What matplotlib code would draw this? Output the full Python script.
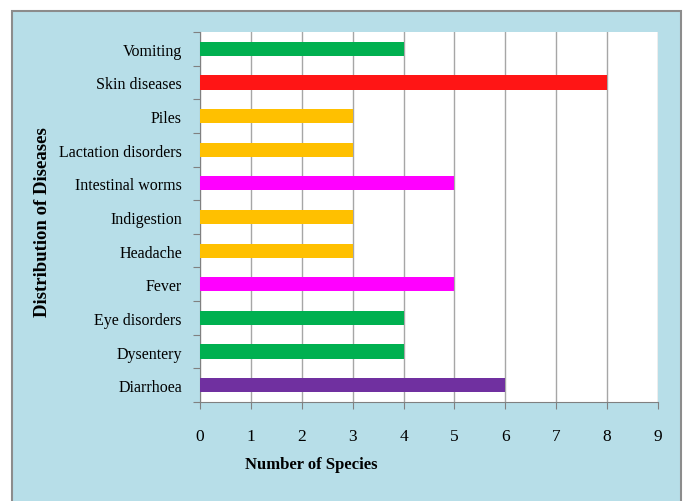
import matplotlib
matplotlib.use("Agg")
import matplotlib.pyplot as plt
from matplotlib.patches import Rectangle

categories = ["Diarrhoea", "Dysentery", "Eye disorders", "Fever", "Headache",
              "Indigestion", "Intestinal worms", "Lactation disorders", "Piles",
              "Skin diseases", "Vomiting"]
species = [6, 4, 4, 5, 3, 3, 5, 3, 3, 8, 4]
colors = ["#7030A0", "#00B050", "#00B050", "#FF00FF", "#FFC000", "#FFC000",
          "#FF00FF", "#FFC000", "#FFC000", "#FF1515", "#00B050"]
xticks = list(range(0, 10))

plt.rcParams['font.family'] = ['Liberation Serif', 'DejaVu Serif']

fig = plt.figure(figsize=(6.83, 5.02), dpi=100)
fig.patch.set_facecolor("white")
# light blue panel with gray border (bottom edge runs off the image)
fig.add_artist(Rectangle((12/683, -0.05), 1 - 14/683, 1.05 - 12/502, transform=fig.transFigure,
                         facecolor="#B7DEE8", edgecolor="#8C8C8C", linewidth=1.5, zorder=0))

ax = fig.add_axes([200/683, (502-403)/502, 458/683, 370/502])
ax.set_facecolor("white")
y = list(range(len(categories)))
ax.barh(y, species, height=0.42, color=colors, zorder=3)
ax.set_xlim(0, 9)
ax.set_ylim(-0.5, len(categories) - 0.5)
ax.set_xticks(xticks)
ax.set_xticklabels([str(t) for t in xticks], fontsize=12.5)
ax.set_yticks(y)
ax.set_yticklabels(categories, fontsize=11.5)
ax.set_yticks([i - 0.5 for i in range(len(categories) + 1)], minor=True)
ax.tick_params(axis="y", which="major", length=0, pad=13)
ax.tick_params(axis="y", which="minor", length=5, color="#808080", width=0.8)
ax.tick_params(axis="x", which="major", length=5, color="#808080", width=0.8, pad=14)
ax.grid(axis="x", color="#A6A6A6", linewidth=1.0, zorder=0)
for s in ["top", "right"]:
    ax.spines[s].set_visible(False)
for s in ["left", "bottom"]:
    ax.spines[s].set_color("#808080")
    ax.spines[s].set_linewidth(0.8)

ax.set_xlabel("Number of Species", fontsize=12, fontweight="bold")
ax.xaxis.set_label_coords(0.242, -0.145)
ax.set_ylabel("Distribution of Diseases", fontsize=13.5, fontweight="bold")
ax.yaxis.set_label_coords(-0.325, 0.49)

fig.savefig("out.png", dpi=100)
